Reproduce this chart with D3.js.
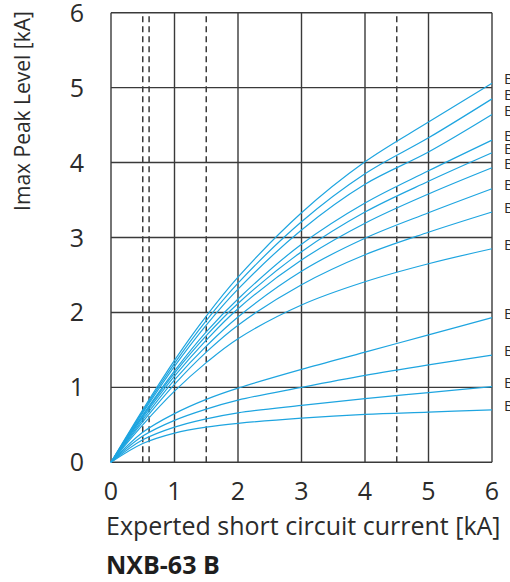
<html>
<head>
    <title>NXB-63 B let-through peak current</title>
    <script type="text/javascript" src="https://d3js.org/d3.v7.min.js"></script>
    <style>
        body {
            margin: 0;
            background: white;
            font-family: "Open Sans", "Noto Sans", sans-serif;
        }

        .grid {
            stroke: #3a3a3a;
            stroke-width: 1.4px;
        }

        .dash {
            stroke: #3a3a3a;
            stroke-width: 1.5px;
            stroke-dasharray: 6, 4;
        }

        .curve {
            fill: none;
            stroke: #1ea5e0;
            stroke-width: 1.2px;
        }

        .tick {
            font-size: 25px;
            fill: #2b2b2b;
        }
    </style>
</head>
<body>
<div id="chart"></div>

<script>
    // sample points along the prospective current axis [kA]
    var xPoints = [0, 0.5, 1, 1.5, 2, 3, 4, 5, 6];

    // labels at the right end of each curve (cut off by the picture edge)
    var ratings = ["B63", "B50", "B40", "B32", "B25", "B20", "B16", "B13", "B10", "B6", "B4", "B2", "B1"];

    // Imax peak level [kA] for each rating at the xPoints above
    var b63 = [0, 0.70, 1.36, 1.95, 2.47, 3.33, 4.01, 4.54, 5.06];
    var b50 = [0, 0.68, 1.32, 1.89, 2.39, 3.21, 3.85, 4.33, 4.85];
    var b40 = [0, 0.66, 1.28, 1.83, 2.31, 3.10, 3.71, 4.14, 4.64];
    var b32 = [0, 0.63, 1.22, 1.74, 2.18, 2.91, 3.46, 3.89, 4.30];
    var b25 = [0, 0.62, 1.19, 1.69, 2.12, 2.81, 3.34, 3.75, 4.13];
    var b20 = [0, 0.60, 1.15, 1.63, 2.05, 2.70, 3.19, 3.58, 3.93];
    var b16 = [0, 0.57, 1.10, 1.55, 1.94, 2.55, 2.99, 3.33, 3.65];
    var b13 = [0, 0.54, 1.04, 1.47, 1.83, 2.37, 2.77, 3.07, 3.34];
    var b10 = [0, 0.50, 0.95, 1.33, 1.65, 2.10, 2.41, 2.65, 2.85];
    var b6 = [0, 0.40, 0.65, 0.84, 0.99, 1.24, 1.47, 1.70, 1.93];
    var b4 = [0, 0.35, 0.56, 0.71, 0.83, 1.00, 1.16, 1.30, 1.43];
    var b2 = [0, 0.30, 0.47, 0.58, 0.66, 0.76, 0.85, 0.93, 1.01];
    var b1 = [0, 0.25, 0.39, 0.47, 0.52, 0.59, 0.64, 0.67, 0.70];

    var series = [b63, b50, b40, b32, b25, b20, b16, b13, b10, b6, b4, b2, b1];

    // dashed reference lines [kA]
    var dashedAt = [0.5, 0.6, 1.5, 4.5];

    var xTicks = [0, 1, 2, 3, 4, 5, 6];
    var yTicks = [0, 1, 2, 3, 4, 5, 6];

    var width = 510, height = 582;

    var x = d3.scaleLinear().domain([0, 6]).range([111, 492]);
    var y = d3.scaleLinear().domain([0, 6]).range([462.3, 12.7]);

    var svg = d3.select("#chart")
        .append("svg")
        .attr("width", width)
        .attr("height", height);

    // grid
    svg.append("g")
        .selectAll("line")
        .data(xTicks)
        .join("line")
        .attr("class", "grid")
        .attr("x1", function (d) { return x(d); })
        .attr("x2", function (d) { return x(d); })
        .attr("y1", y(0))
        .attr("y2", y(6));

    svg.append("g")
        .selectAll("line")
        .data(yTicks)
        .join("line")
        .attr("class", "grid")
        .attr("x1", x(0))
        .attr("x2", x(6))
        .attr("y1", function (d) { return y(d); })
        .attr("y2", function (d) { return y(d); });

    svg.append("g")
        .selectAll("line")
        .data(dashedAt)
        .join("line")
        .attr("class", "dash")
        .attr("x1", function (d) { return x(d); })
        .attr("x2", function (d) { return x(d); })
        .attr("y1", y(0))
        .attr("y2", y(6));

    // curves
    var line = d3.line()
        .x(function (d, i) { return x(xPoints[i]); })
        .y(function (d) { return y(d); })
        .curve(d3.curveCatmullRom.alpha(0.5));

    svg.append("g")
        .selectAll("path")
        .data(series)
        .join("path")
        .attr("class", "curve")
        .attr("d", line);

    // rating labels
    svg.append("g")
        .selectAll("text")
        .data(series)
        .join("text")
        .attr("x", 504)
        .attr("y", function (d) { return y(d[d.length - 1]) - 3; })
        .attr("dominant-baseline", "middle")
        .style("font-size", "15px")
        .style("fill", "#2b2b2b")
        .text(function (d, i) { return ratings[i]; });

    // tick labels
    svg.append("g")
        .selectAll("text")
        .data(xTicks)
        .join("text")
        .attr("class", "tick")
        .attr("x", function (d) { return x(d); })
        .attr("y", 500)
        .attr("text-anchor", "middle")
        .text(function (d) { return d; });

    svg.append("g")
        .selectAll("text")
        .data(yTicks)
        .join("text")
        .attr("class", "tick")
        .attr("x", 77)
        .attr("y", function (d) { return y(d) + 9; })
        .attr("text-anchor", "middle")
        .text(function (d) { return d; });

    // axis titles
    svg.append("text")
        .attr("x", 106)
        .attr("y", 535)
        .style("font-size", "25px")
        .style("fill", "#2b2b2b")
        .text("Experted short circuit current [kA]");

    svg.append("text")
        .attr("transform", "translate(30, 111) rotate(-90)")
        .attr("text-anchor", "middle")
        .style("font-size", "21px")
        .style("fill", "#2b2b2b")
        .text("Imax Peak Level [kA]");

    svg.append("text")
        .attr("x", 106)
        .attr("y", 574)
        .style("font-size", "25px")
        .style("font-weight", "bold")
        .style("fill", "#1e1e1e")
        .text("NXB-63 B");
</script>
</body>
</html>
